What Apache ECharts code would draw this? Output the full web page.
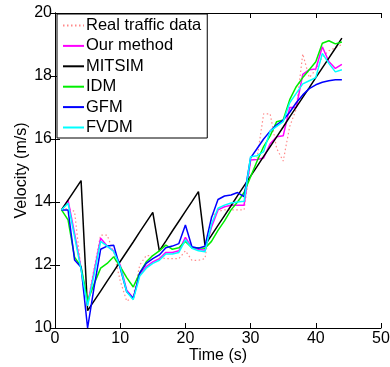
<!DOCTYPE html>
<html><head><meta charset="utf-8">
<script src="https://cdn.jsdelivr.net/npm/echarts@6/dist/echarts.min.js"></script>
<style>html,body{margin:0;padding:0;background:#fff}#c{width:390px;height:367px}</style>
</head><body><div id="c"></div>
<script>
const time = [1,2,3,4,5,6,7,8,9,10,11,12,13,14,15,16,17,18,19,20,21,22,23,24,25,26,27,28,29,30,31,32,33,34,35,36,37,38,39,40,41,42,43,44];
const realData = [13.75,13.8,13.7,11.85,10.8,11.9,12.95,12.95,12.4,11.5,10.85,11.0,12.0,12.3,12.3,12.25,12.2,12.2,12.2,12.45,12.15,12.15,12.2,13.55,13.7,13.75,13.75,13.75,13.75,15.3,15.4,16.8,16.8,15.7,15.3,16.4,16.95,18.7,17.95,18.2,18.6,18.8,18.9,19.0];
const ourMethod = [13.75,14.06,13.0,11.9,10.75,11.8,12.85,12.6,12.45,12.0,11.2,10.95,11.7,11.95,12.1,12.2,12.4,12.4,12.45,12.88,12.55,12.5,12.47,13.2,13.75,13.85,13.9,13.9,13.9,15.33,15.35,15.4,15.85,16.07,16.1,17.0,17.0,18.05,18.2,18.22,18.93,18.46,18.24,18.37];
const mitsim = [13.75,14.06,14.37,14.68,10.55,10.86,11.17,11.49,11.8,12.11,12.42,12.73,13.05,13.36,13.67,12.45,12.76,13.08,13.39,13.7,14.01,14.33,12.63,12.94,13.26,13.57,13.88,14.2,14.51,14.82,15.13,15.45,15.76,16.07,16.38,16.7,17.01,17.32,17.63,17.95,18.26,18.57,18.88,19.2];
const idm = [13.75,13.43,12.25,11.95,10.85,11.4,11.9,12.05,12.26,11.95,11.6,11.3,11.75,12.1,12.3,12.45,12.63,12.5,12.55,12.75,12.55,12.55,12.53,12.75,13.1,13.4,13.75,14.0,14.3,14.8,15.3,15.76,16.1,16.55,16.6,17.25,17.66,17.95,18.2,18.45,19.04,19.12,19.02,19.08];
const gfm = [13.75,13.75,12.16,11.93,10.0,11.3,12.5,12.6,12.63,11.9,11.15,10.94,11.75,12.05,12.2,12.32,12.55,12.6,12.68,13.27,12.58,12.53,12.6,13.5,14.08,14.19,14.22,14.3,14.17,15.4,15.7,16.0,16.25,16.45,16.6,16.85,17.15,17.4,17.6,17.72,17.8,17.85,17.88,17.88];
const fvdm = [13.75,13.96,12.9,11.85,10.7,11.7,12.75,12.6,12.43,11.95,11.15,10.9,11.65,11.9,12.05,12.15,12.35,12.35,12.4,12.8,12.53,12.45,12.42,13.3,13.8,13.9,13.97,14.0,14.02,15.44,15.47,15.6,16.25,16.4,16.55,17.15,17.45,17.75,17.85,17.95,18.72,18.4,18.13,18.2];
const xTicks = {min:0,max:50,interval:10};
const yTicks = {min:10,max:20,interval:2};
const seriesNames = ['Real traffic data','Our method','MITSIM','IDM','GFM','FVDM'];
const seriesValues = [realData, ourMethod, mitsim, idm, gfm, fvdm];
const seriesColors = ['#ff8a8a','#ff00ff','#000000','#00ee00','#0000ff','#00ffff'];

const font = 'Liberation Sans, Arial, sans-serif';
const pair = v => time.map((t,i)=>[t,v[i]]);
const chart = echarts.init(document.getElementById('c'), null, {renderer:'canvas'});
const axisLine = {show:true, lineStyle:{color:'#000', width:1}};
const tick = {show:true, inside:true, length:5, lineStyle:{color:'#000'}};
chart.setOption({
  animation:false,
  backgroundColor:'#fff',
  grid:{left:55,right:9,top:13,bottom:39,containLabel:false,outerBoundsMode:'none'},
  legend:{
    orient:'vertical', left:57, top:14, padding:[3,6,2,5],
    backgroundColor:'#fff', borderColor:'#000', borderWidth:1, borderRadius:0,
    itemWidth:21, itemHeight:12, itemGap:3.4,
    itemStyle:{opacity:0},
    textStyle:{fontFamily:font, fontSize:16.5, lineHeight:16, color:'#000', padding:[0,0,0,-3]},
    data:seriesNames
  },
  xAxis:[
    {type:'value', min:xTicks.min, max:xTicks.max, interval:xTicks.interval, position:'bottom',
     name:'Time (s)', nameLocation:'middle', nameGap:20, nameMoveOverlap:false,
     nameTextStyle:{fontFamily:font, fontSize:16, color:'#000'},
     axisLine:axisLine, axisTick:tick, splitLine:{show:false},
     axisLabel:{fontFamily:font, fontSize:16, color:'#000', margin:3}},
    {type:'value', min:xTicks.min, max:xTicks.max, interval:xTicks.interval, position:'top',
     axisLine:axisLine, axisTick:tick, splitLine:{show:false}, axisLabel:{show:false}}
  ],
  yAxis:[
    {type:'value', min:yTicks.min, max:yTicks.max, interval:yTicks.interval, position:'left',
     name:'Velocity (m/s)', nameLocation:'middle', nameGap:25, nameRotate:90, nameMoveOverlap:false,
     nameTextStyle:{fontFamily:font, fontSize:16, color:'#000'},
     axisLine:axisLine, axisTick:tick, splitLine:{show:false},
     axisLabel:{fontFamily:font, fontSize:16, color:'#000', margin:3}},
    {type:'value', min:yTicks.min, max:yTicks.max, interval:yTicks.interval, position:'right',
     axisLine:axisLine, axisTick:tick, splitLine:{show:false}, axisLabel:{show:false}}
  ],
  series: seriesNames.map((n,i)=>({
    name:n, type:'line', data:pair(seriesValues[i]), symbol:'none', showSymbol:false,
    xAxisIndex:0, yAxisIndex:0,
    lineStyle:{color:seriesColors[i], width: i===0?1.2:1.5, type: i===0?[1.5,2.5]:'solid'},
    itemStyle:{color:seriesColors[i]}
  }))
});
</script></body></html>
